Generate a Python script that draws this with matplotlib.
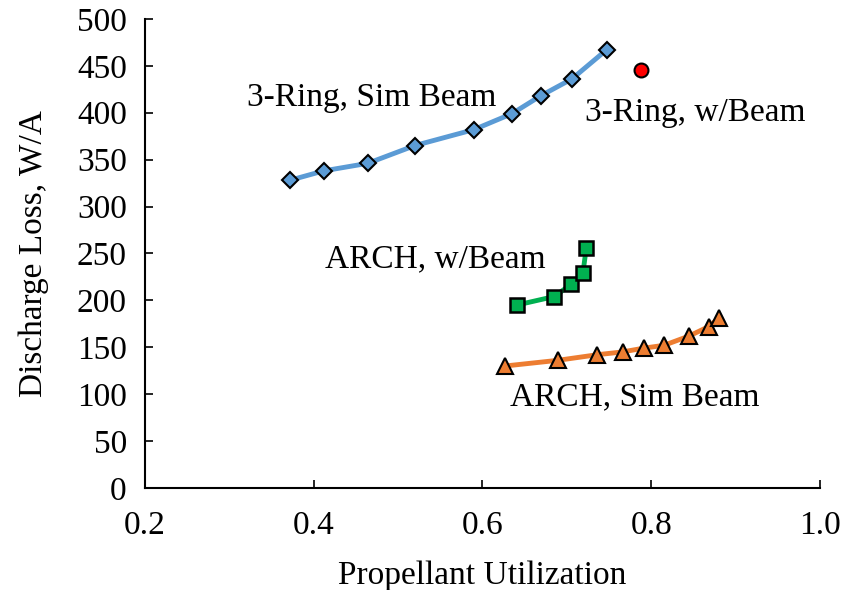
import matplotlib.pyplot as plt

plt.rcParams['font.family'] = 'Liberation Serif'

ring_sim_x = [0.372, 0.412, 0.464, 0.520, 0.590, 0.635, 0.669, 0.706, 0.747]
ring_sim_y = [328, 338, 346, 365, 382, 399, 418, 436, 467]

ring_beam_x = [0.788]
ring_beam_y = [446]

arch_beam_x = [0.641, 0.685, 0.705, 0.719, 0.723]
arch_beam_y = [195, 204, 217, 229, 256]

arch_sim_x = [0.627, 0.689, 0.736, 0.766, 0.791, 0.815, 0.845, 0.868, 0.880]
arch_sim_y = [130, 136, 142, 145, 149, 152, 162, 172, 181]

fig = plt.figure(figsize=(8.42, 5.9), dpi=100)
ax = fig.add_axes([0.172, 0.173, 0.802, 0.795])

ax.plot(ring_sim_x, ring_sim_y, color='#5B9BD5', lw=3.5, marker='D', ms=8.5,
        mfc='#5B9BD5', mec='black', mew=1.5)
ax.plot(arch_sim_x, arch_sim_y, color='#ED7D31', lw=3.5, marker='^', ms=11,
        mfc='#ED7D31', mec='black', mew=1.5)
ax.plot(arch_beam_x, arch_beam_y, color='#00B050', lw=3.5, marker='s', ms=10.5,
        mfc='#00B050', mec='black', mew=1.8)
ax.plot(ring_beam_x, ring_beam_y, ls='none', marker='o', ms=10,
        mfc='#FF0000', mec='black', mew=1.5)

fs = 24
ax.text(0.469, 416, '3-Ring, Sim Beam', fontsize=fs, ha='center', va='center')
ax.text(0.852, 400, '3-Ring, w/Beam', fontsize=fs, ha='center', va='center')
ax.text(0.544, 244, 'ARCH, w/Beam', fontsize=fs, ha='center', va='center')
ax.text(0.781, 97, 'ARCH, Sim Beam', fontsize=fs, ha='center', va='center')

ax.set_xlim(0.2, 1.0)
ax.set_ylim(0, 500)
ax.set_xticks([0.2, 0.4, 0.6, 0.8, 1.0])
ax.set_yticks(range(0, 501, 50))
ax.set_xticklabels(['0.2', '0.4', '0.6', '0.8', '1.0'])

ax.spines['top'].set_visible(False)
ax.spines['right'].set_visible(False)
for s in ['left', 'bottom']:
    ax.spines[s].set_linewidth(1.5)

ax.tick_params(direction='in', length=6, width=1.2, labelsize=fs)
ax.tick_params(axis='x', pad=16)
ax.tick_params(axis='y', pad=13)
ax.set_xlabel('Propellant Utilization', fontsize=fs, labelpad=14)
ax.set_ylabel('Discharge Loss, W/A', fontsize=fs, labelpad=20)

fig.savefig('out.png', dpi=100)
